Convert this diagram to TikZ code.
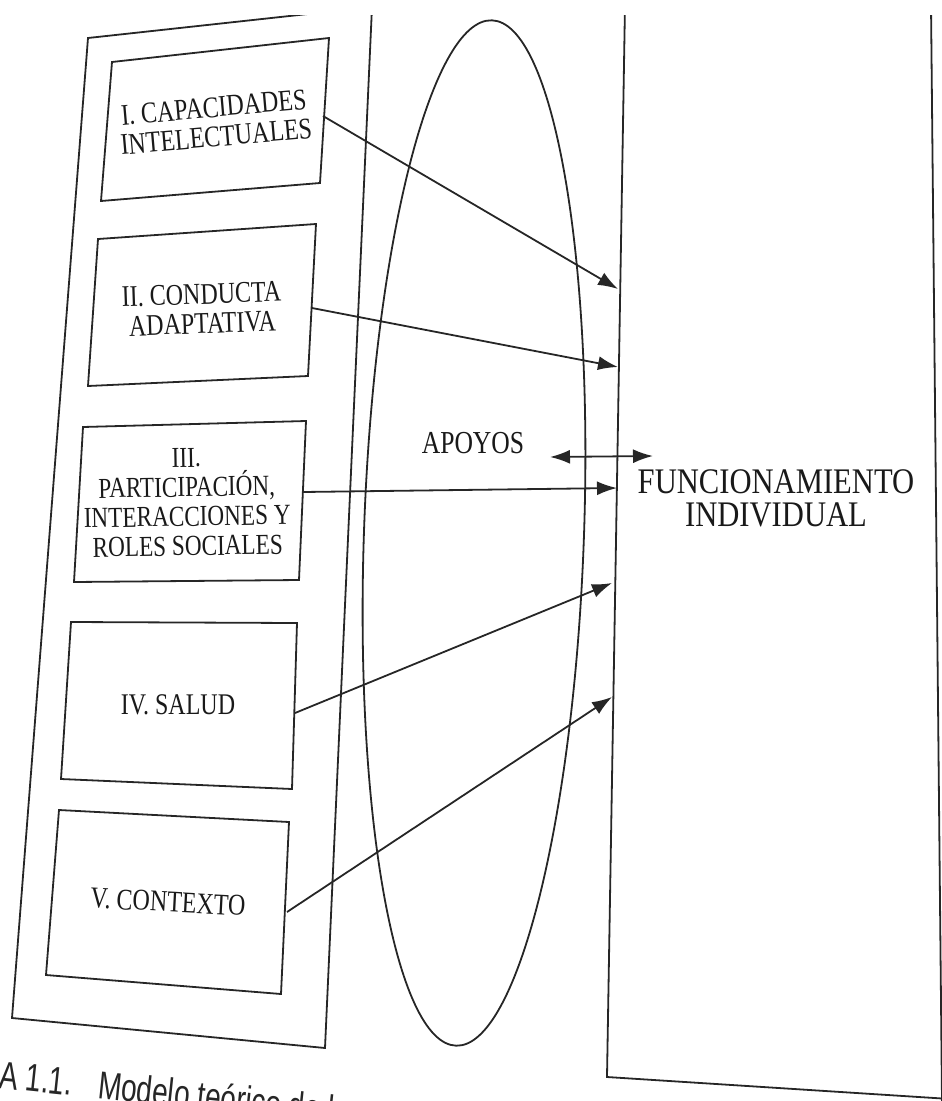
\documentclass[tikz,border=0pt]{standalone}
\usepackage{fontspec}
\setmainfont{Liberation Serif}
\newfontfamily\boxfont[FakeStretch=0.8]{Liberation Serif}
\newfontfamily\rpfont[FakeStretch=0.85]{Liberation Serif}
\newfontfamily\capfont[FakeStretch=0.72]{Liberation Sans}
\usetikzlibrary{arrows.meta}
\begin{document}
\begin{tikzpicture}[x=1pt,y=-1pt,
  ln/.style={line width=1.8pt, draw=black!85},
  arr/.style={ln, -{Latex[length=20pt,width=14pt]}},
  darr/.style={ln, {Latex[length=20pt,width=14pt]}-{Latex[length=20pt,width=14pt]}},
  boxtxt/.style={align=center, font=\boxfont\fontsize{30}{29.5}\selectfont, inner sep=0pt, text=black!90},
  bigtxt/.style={align=center, font=\rpfont\fontsize{36}{33}\selectfont, inner sep=0pt, text=black!90},
  captxt/.style={font=\capfont\fontsize{39}{39}\selectfont, inner sep=0pt, text=black!85}]
\useasboundingbox (0,0) rectangle (942,1101);
\begin{scope}
\clip (0,15) rectangle (942,1101);
% outer left panel
\draw[ln] (88,38) -- (372,7) -- (325,1048) -- (12,1018) -- cycle;
% inner boxes
\draw[ln] (112,62) -- (329,38) -- (320,183) -- (101,201) -- cycle;
\draw[ln] (98,239) -- (316,224) -- (308,376) -- (88,386) -- cycle;
\draw[ln] (83,427) -- (306,421) -- (299,580) -- (74,582) -- cycle;
\draw[ln] (71,622) -- (297,623) -- (292,789) -- (61,779) -- cycle;
\draw[ln] (59,810) -- (289,822) -- (281,994) -- (46,975) -- cycle;
% ellipse
\draw[ln, rotate around={-2:(474,533)}] (474,533) ellipse [x radius=110, y radius=513];
% right panel
\draw[ln] (625,5) -- (607,1077) -- (950,1099);
\draw[ln] (931,5) -- (942,1101);
\end{scope}
% texts
\node[boxtxt, rotate=5] (t1) at (215,122) {I. CAPACIDADES\\INTELECTUALES};
\node[boxtxt, rotate=2] (t2) at (202,309) {II. CONDUCTA\\ADAPTATIVA};
\node[boxtxt, rotate=1, font=\boxfont\fontsize{29}{29.5}\selectfont] (t3) at (187,502) {III.\\PARTICIPACIÓN,\\INTERACCIONES Y\\ROLES SOCIALES};
\node[boxtxt] (t4) at (178,705) {IV. SALUD};
\node[boxtxt, rotate=-3] (t5) at (168,902) {V. CONTEXTO};
\node[boxtxt, font=\boxfont\fontsize{32}{32}\selectfont] (apoyos) at (473,443) {APOYOS};
\node[bigtxt] (func) at (776,498) {FUNCIONAMIENTO\\INDIVIDUAL};
\node[captxt, anchor=base west, rotate=-6] (cap) at (-2,1088) {A 1.1.\hspace{26pt}Modelo teórico de l};
% arrow endpoints
\coordinate (s1) at (323,116); \coordinate (e1) at (618,289);
\coordinate (s2) at (312,308); \coordinate (e2) at (618,367);
\coordinate (s3) at (303,492); \coordinate (e3) at (617,488);
\coordinate (s4) at (295,713); \coordinate (e4) at (612,583);
\coordinate (s5) at (287,912); \coordinate (e5) at (612,697);
\coordinate (da) at (550,457); \coordinate (db) at (653,456);
\draw[arr] (s1) -- (e1);
\draw[arr] (s2) -- (e2);
\draw[arr] (s3) -- (e3);
\draw[arr] (s4) -- (e4);
\draw[arr] (s5) -- (e5);
\draw[darr] (da) -- (db);
\end{tikzpicture}
\end{document}
